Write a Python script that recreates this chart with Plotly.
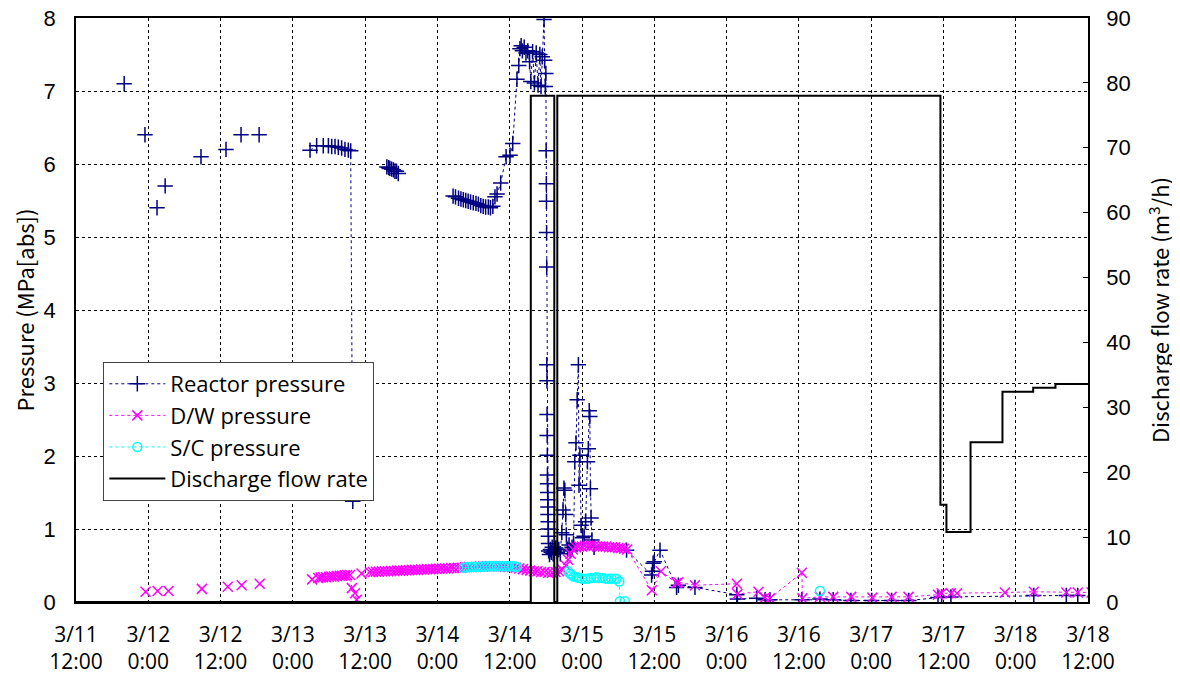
"""Reactor / D/W / S/C pressure and discharge flow rate, 3/11 12:00 - 3/18 12:00."""

import plotly.graph_objects as go

# x values are hours elapsed since 3/11 12:00; None breaks the line
TICK_HOURS = list(range(0, 169, 12))
TICK_TEXT = [
    "3/11<br>12:00", "3/12<br>0:00", "3/12<br>12:00", "3/13<br>0:00", "3/13<br>12:00",
    "3/14<br>0:00", "3/14<br>12:00", "3/15<br>0:00", "3/15<br>12:00", "3/16<br>0:00",
    "3/16<br>12:00", "3/17<br>0:00", "3/17<br>12:00", "3/18<br>0:00", "3/18<br>12:00",
]

reactor_h = [
    8.0, None, 11.45, None, 13.45, None, 14.8, None, 20.75, None, 24.9, None, 27.4, None, 30.4, None,
    38.85, 39.95, 41.05, 41.9, 42.45, 43.0, 43.55, 44.1, 44.65, 45.2, 45.6, 45.95, None,
    51.6, 51.9, 52.1, 52.4, 52.7, 52.95, 53.2, 53.5, None,
    62.6, 63.0, 63.5, 63.9, 64.3, 64.7, 65.1, 65.5, 65.95, 66.4, 66.8, 67.2, 67.6, 68.0, 68.45, 68.8,
    69.2, 69.55, 69.9, 70.5, 71.4, 72.05, 72.5, 73.2, 73.5, 73.7, 73.9, 74.1, 74.4, 74.7, 75.0, 75.3,
    75.5, 75.8, 76.1, 76.4, 76.7, 77.0, 77.2, 77.4, 77.7, 77.8, 77.9, 78.0,
    78.05, 78.08, 78.1, 78.12, 78.14, 78.16, 78.18, 78.2, 78.22, 78.24, 78.26, 78.28, 78.3, 78.32,
    78.34, 78.36, 78.38, 78.4, 78.42, 78.44, 78.46,
    78.6, 78.75, 78.9, 79.05, 79.2, 79.4, 79.65, 79.9, 80.15, 80.4, 80.65, 80.85, 81.0, 81.15, 81.3,
    81.4, 81.6, 81.85, 82.1, 82.35, 82.6, 82.8, 83.0, 83.2, 83.4, 83.5, 83.65, 83.85, 84.1, 84.35,
    84.6, 84.9, 85.05, 85.2, 85.3, 85.4, 85.5, 85.65, 86.0, 91.4, 95.55, 95.7, 95.8, 96.0, 96.95,
    99.7, 100.0, 102.75, 109.7, 109.8, 113.0, 114.4, 115.2, 120.5, 123.5, 125.7, 128.65, 132.1,
    135.4, 138.25, 143.1, 143.7, 145.25, 159.0, 164.4, 166.3,
]
reactor_p = [
    7.1, None, 6.4, None, 5.4, None, 5.7, None, 6.1, None, 6.2, None, 6.4, None, 6.4, None,
    6.19, 6.25, 6.25, 6.25, 6.24, 6.24, 6.23, 6.22, 6.2, 6.19, 6.18, 1.38, None,
    5.96, 5.95, 5.94, 5.93, 5.92, 5.9, 5.9, 5.87, None,
    5.56, 5.55, 5.53, 5.52, 5.51, 5.5, 5.49, 5.48, 5.47, 5.46, 5.45, 5.43, 5.42, 5.41, 5.41, 5.4,
    5.42, 5.55, 5.59, 5.74, 6.10, 6.12, 6.28, 7.16, 7.35, 7.58, 7.62, 7.55, 7.6, 7.52, 7.55, 7.4,
    7.13, 7.54, 7.11, 7.52, 7.08, 7.5, 7.06, 7.47, 7.98, 7.42, 7.06, 7.24,
    6.18, 5.73, 5.49, 5.06, 4.59, 3.25, 3.03, 2.57, 2.28, 2.01, 1.74, 1.62, 1.5, 1.4,
    1.3, 1.2, 1.1, 1.0, 0.9, 0.8, 0.7,
    0.65, 0.72, 0.68, 0.75, 0.66, 0.70, 0.74, 0.68, 0.72, 0.66, 0.95, 1.26, 1.56, 1.53, 1.2,
    0.92, 0.72, 0.78, 0.70, 0.75, 0.80, 1.92, 2.18, 2.77, 3.25, 1.6, 2.01, 1.05, 0.88, 0.9,
    1.1, 1.92, 2.1, 2.62, 2.54, 1.55, 1.15, 0.85, 0.75, 0.71, 0.37, 0.42, 0.53, 0.55, 0.71,
    0.20, 0.23, 0.20, 0.10, 0.04, 0.05, 0.03, 0.03, 0.03, 0.04, 0.03, 0.02, 0.02,
    0.02, 0.02, 0.06, 0.07, 0.07, 0.09, 0.09, 0.09,
]

dw_h = [
    11.55, None, 13.55, None, 15.35, None, 20.9, None, 25.2, None, 27.5, None, 30.5, None, 39.2, None,
    40.2, 40.6, 41.0, 41.5, 42.0, 42.4, 42.8, 43.3, 43.8, 44.2, 44.6, 45.0, 45.5, 45.8, 46.3, 46.6, None,
    47.4, 48.8, 49.3, 49.8, 50.3, 50.8, 51.3, 51.8, 52.3, 52.8, 53.3, 53.8, 54.3, 54.8, 55.3, 55.8,
    56.3, 56.8, 57.3, 57.8, 58.3, 58.8, 59.3, 59.8, 60.3, 60.8, 61.3, 61.8, 62.3, 62.8, 63.4,
    64.0, 64.6, 65.2, 65.8, 66.4, 67.0, 67.6, 68.2, 68.8, 69.4, 70.0, 70.6, 71.2, 71.8, 72.4, 73.0,
    73.6, 74.2, 74.8, 75.4, 76.0, 76.6, 77.2, 77.8, 78.4, 79.0, 79.6, 80.2, 80.8, 81.3, 81.7, 82.1,
    82.5, 83.0, 83.5, 84.0, 84.5, 85.0, 85.5, 86.0, 86.5, 87.0, 87.5, 88.0, 88.5, 89.0, 89.5, 90.0,
    90.5, 91.0, 91.5, 95.6, 97.1, 99.7, 100.0, 102.75, 109.7, 109.8, 113.3, 114.4, 115.2, 120.5,
    120.6, 123.5, 125.7, 128.7, 132.2, 135.4, 138.2, 143.1, 143.7, 145.25, 146.25, 154.2, 159.0,
    164.4, 166.3, 168.6,
]
dw_p = [
    0.14, None, 0.15, None, 0.15, None, 0.18, None, 0.21, None, 0.23, None, 0.25, None, 0.31, None,
    0.33, 0.335, 0.34, 0.34, 0.345, 0.35, 0.35, 0.355, 0.36, 0.36, 0.365, 0.37, 0.37, 0.19, 0.12, 0.03, None,
    0.39, 0.41, 0.41, 0.415, 0.415, 0.42, 0.42, 0.42, 0.425, 0.425, 0.43, 0.43, 0.43, 0.435, 0.435, 0.44,
    0.44, 0.44, 0.445, 0.445, 0.45, 0.45, 0.45, 0.455, 0.455, 0.46, 0.46, 0.46, 0.465, 0.465, 0.47,
    0.47, 0.475, 0.48, 0.48, 0.48, 0.485, 0.485, 0.49, 0.49, 0.49, 0.49, 0.49, 0.485, 0.48, 0.48, 0.47,
    0.46, 0.45, 0.44, 0.43, 0.42, 0.42, 0.41, 0.41, 0.40, 0.40, 0.41, 0.42, 0.44, 0.5, 0.58, 0.66,
    0.72, 0.75, 0.76, 0.76, 0.77, 0.77, 0.77, 0.77, 0.76, 0.76, 0.76, 0.76, 0.75, 0.75, 0.75, 0.74,
    0.74, 0.73, 0.72, 0.16, 0.42, 0.26, 0.27, 0.23, 0.25, 0.11, 0.14, 0.06, 0.05, 0.40,
    0.05, 0.07, 0.07, 0.07, 0.06, 0.07, 0.07, 0.10, 0.12, 0.12, 0.12, 0.13, 0.14,
    0.13, 0.13, 0.13,
]

sc_h = [
    64.4, 64.9, 65.4, 65.9, 66.4, 66.9, 67.4, 67.9, 68.4, 68.9, 69.4, 69.9, 70.4, 70.9, 71.4, 71.9,
    72.4, 72.9, 73.2, None,
    81.7, 82.0, 82.3, 82.6, 83.1, 83.5, 84.0, 84.5, 85.0, 85.5, 86.0, 86.4, 86.9, 87.4, 87.9, 88.4,
    88.9, 89.4, 89.75, 90.2, 90.3, 91.1, None, 123.5,
]
sc_p = [
    0.47, 0.475, 0.48, 0.48, 0.48, 0.48, 0.485, 0.485, 0.49, 0.49, 0.49, 0.49, 0.49, 0.49, 0.49, 0.49,
    0.49, 0.485, 0.48, None,
    0.42, 0.39, 0.37, 0.35, 0.34, 0.33, 0.32, 0.32, 0.32, 0.33, 0.33, 0.34, 0.33, 0.33, 0.32, 0.32,
    0.32, 0.32, 0.32, 0.28, 0.01, 0.01, None, 0.15,
]

flow_h = [0, 75.5, 79.4, 79.9, 143.5, 144.5, 148.5, 153.8, 158.9, 162.6, 168]
flow_rate = [0, 78, 0, 78, 15, 10.8, 24.6, 32.4, 33.0, 33.6, 33.6]

JP_FONT = "Noto Sans CJK JP, Liberation Sans, sans-serif"
WIDE_FONT = "Open Sans, Noto Sans CJK JP, sans-serif"
NUM_FONT = "Liberation Sans, Arial, sans-serif"

fig = go.Figure()
fig.add_trace(
    go.Scatter(
        x=reactor_h, y=reactor_p, mode="lines+markers", name="Reactor pressure",
        line=dict(color="#000080", width=1, dash="dot"),
        marker=dict(symbol="cross-thin", size=11, color="#000080",
                    line=dict(color="#000080", width=1.5)),
    )
)
fig.add_trace(
    go.Scatter(
        x=dw_h, y=dw_p, mode="lines+markers", name="D/W pressure",
        line=dict(color="#ff00ff", width=1, dash="dot"),
        marker=dict(symbol="x-thin", size=10, color="#ff00ff",
                    line=dict(color="#ff00ff", width=1.5)),
    )
)
fig.add_trace(
    go.Scatter(
        x=sc_h, y=sc_p, mode="lines+markers", name="S/C pressure",
        line=dict(color="#00ffff", width=1, dash="dot"),
        marker=dict(symbol="circle-open", size=9, color="#00ffff",
                    line=dict(color="#00ffff", width=1.5)),
    )
)
fig.add_trace(
    go.Scatter(
        x=flow_h, y=flow_rate, mode="lines", name="Discharge flow rate",
        line=dict(color="#000000", width=2, shape="hv"), yaxis="y2",
    )
)

# the page body adds an 8 px margin, so the figure is 8 px smaller each way
fig.update_layout(
    width=1172,
    height=672,
    margin=dict(l=68, r=92, t=10, b=78),
    plot_bgcolor="white",
    paper_bgcolor="white",
    showlegend=True,
    legend=dict(
        x=0.027, y=0.411, xanchor="left", yanchor="top",
        bgcolor="white", bordercolor="#444444", borderwidth=1,
        font=dict(family=WIDE_FONT, size=22, color="black"),
        itemwidth=56, tracegroupgap=0,
    ),
    xaxis=dict(
        range=[0, 168], tickvals=TICK_HOURS, ticktext=TICK_TEXT, automargin=False,
        showgrid=True, gridcolor="#000000", griddash="dot", gridwidth=1,
        showline=True, linecolor="black", linewidth=1.5, mirror=True,
        ticks="", zeroline=False, ticklabelstandoff=13, ticklabeloverflow="allow",
        tickfont=dict(family=WIDE_FONT, size=21, color="black"),
    ),
    yaxis=dict(
        range=[0, 8], dtick=1, automargin=False,
        showgrid=True, gridcolor="#000000", griddash="dot", gridwidth=1,
        showline=True, linecolor="black", linewidth=1.5,
        ticks="", zeroline=False, ticklabelstandoff=14, ticklabeloverflow="allow",
        tickfont=dict(family=NUM_FONT, size=22, color="black"),
        title=dict(text="Pressure (MPa[abs])", standoff=16,
                   font=dict(family=JP_FONT, size=22, color="black")),
    ),
    yaxis2=dict(
        range=[0, 90], dtick=10, overlaying="y", side="right", automargin=False,
        showgrid=False, zeroline=False,
        showline=True, linecolor="black", linewidth=1.5,
        ticks="inside", ticklen=5, tickcolor="black", ticklabelstandoff=12,
        ticklabeloverflow="allow",
        tickfont=dict(family=NUM_FONT, size=22, color="black"),
        title=dict(text="Discharge flow rate (m<sup>3</sup>/h)", standoff=24,
                   font=dict(family=JP_FONT, size=22, color="black")),
    ),
)

fig.write_html("out.html")
